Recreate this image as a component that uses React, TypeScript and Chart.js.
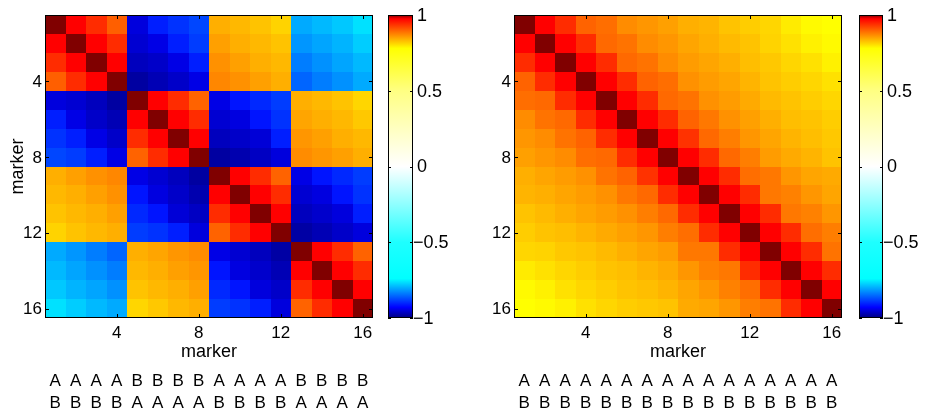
import React, { useEffect, useRef } from "react";
import { Chart, registerables } from "chart.js";

Chart.register(...registerables);

// ---------- data ----------
const markers = [1, 2, 3, 4, 5, 6, 7, 8, 9, 10, 11, 12, 13, 14, 15, 16];
const axisTicks = [4, 8, 12, 16];
const axisTickLabels = ["4", "8", "12", "16"];
const colorbarTicks = [-1, -0.5, 0, 0.5, 1];
const colorbarLabels = ["\u22121", "\u22120.5", "0", "0.5", "1"];
const axisTitle = "marker";

const leftHaploRow1 = ["A", "A", "A", "A", "B", "B", "B", "B", "A", "A", "A", "A", "B", "B", "B", "B"];
const leftHaploRow2 = ["B", "B", "B", "B", "A", "A", "A", "A", "B", "B", "B", "B", "A", "A", "A", "A"];
const rightHaploRow1 = ["A", "A", "A", "A", "A", "A", "A", "A", "A", "A", "A", "A", "A", "A", "A", "A"];
const rightHaploRow2 = ["B", "B", "B", "B", "B", "B", "B", "B", "B", "B", "B", "B", "B", "B", "B", "B"];

const leftMatrix = [
  [1.0, 0.975, 0.941, 0.902, -0.949, -0.908, -0.893, -0.878, 0.841, 0.834, 0.826, 0.814, -0.803, -0.792, -0.781, -0.762],
  [0.975, 1.0, 0.975, 0.941, -0.955, -0.944, -0.908, -0.885, 0.853, 0.841, 0.834, 0.826, -0.818, -0.807, -0.796, -0.777],
  [0.941, 0.975, 1.0, 0.975, -0.966, -0.96, -0.944, -0.908, 0.864, 0.853, 0.841, 0.834, -0.837, -0.822, -0.807, -0.792],
  [0.902, 0.941, 0.975, 1.0, -0.982, -0.971, -0.96, -0.944, 0.872, 0.864, 0.853, 0.841, -0.855, -0.837, -0.822, -0.803],
  [-0.949, -0.955, -0.966, -0.982, 1.0, 0.975, 0.941, 0.899, -0.944, -0.915, -0.9, -0.885, 0.841, 0.834, 0.826, 0.811],
  [-0.908, -0.944, -0.96, -0.971, 0.975, 1.0, 0.975, 0.941, -0.955, -0.947, -0.915, -0.893, 0.849, 0.841, 0.834, 0.822],
  [-0.893, -0.908, -0.944, -0.96, 0.941, 0.975, 1.0, 0.975, -0.966, -0.96, -0.952, -0.908, 0.86, 0.853, 0.841, 0.834],
  [-0.878, -0.885, -0.908, -0.944, 0.899, 0.941, 0.975, 1.0, -0.982, -0.974, -0.963, -0.949, 0.868, 0.86, 0.853, 0.841],
  [0.841, 0.853, 0.864, 0.872, -0.944, -0.955, -0.966, -0.982, 1.0, 0.975, 0.941, 0.899, -0.944, -0.915, -0.9, -0.885],
  [0.834, 0.841, 0.853, 0.864, -0.915, -0.947, -0.96, -0.974, 0.975, 1.0, 0.975, 0.941, -0.955, -0.947, -0.915, -0.893],
  [0.826, 0.834, 0.841, 0.853, -0.9, -0.915, -0.952, -0.963, 0.941, 0.975, 1.0, 0.975, -0.966, -0.958, -0.949, -0.908],
  [0.814, 0.826, 0.834, 0.841, -0.885, -0.893, -0.908, -0.949, 0.899, 0.941, 0.975, 1.0, -0.98, -0.971, -0.96, -0.949],
  [-0.803, -0.818, -0.837, -0.855, 0.841, 0.849, 0.86, 0.868, -0.944, -0.955, -0.966, -0.98, 1.0, 0.975, 0.941, 0.899],
  [-0.792, -0.807, -0.822, -0.837, 0.834, 0.841, 0.853, 0.86, -0.915, -0.947, -0.958, -0.971, 0.975, 1.0, 0.975, 0.941],
  [-0.781, -0.796, -0.807, -0.822, 0.826, 0.834, 0.841, 0.853, -0.9, -0.915, -0.949, -0.96, 0.941, 0.975, 1.0, 0.975],
  [-0.762, -0.777, -0.792, -0.803, 0.811, 0.822, 0.834, 0.841, -0.885, -0.893, -0.908, -0.949, 0.899, 0.941, 0.975, 1.0],
];

const rightMatrix = [
  [1.0, 0.975, 0.941, 0.899, 0.891, 0.868, 0.86, 0.853, 0.841, 0.837, 0.826, 0.818, 0.811, 0.795, 0.784, 0.78],
  [0.975, 1.0, 0.975, 0.941, 0.895, 0.887, 0.868, 0.86, 0.849, 0.841, 0.833, 0.826, 0.814, 0.803, 0.791, 0.784],
  [0.941, 0.975, 1.0, 0.975, 0.941, 0.895, 0.887, 0.868, 0.856, 0.849, 0.841, 0.83, 0.822, 0.811, 0.803, 0.791],
  [0.899, 0.941, 0.975, 1.0, 0.975, 0.941, 0.899, 0.891, 0.864, 0.856, 0.849, 0.837, 0.826, 0.818, 0.811, 0.803],
  [0.891, 0.895, 0.941, 0.975, 1.0, 0.975, 0.941, 0.895, 0.887, 0.864, 0.856, 0.845, 0.833, 0.826, 0.818, 0.811],
  [0.868, 0.887, 0.895, 0.941, 0.975, 1.0, 0.975, 0.941, 0.899, 0.883, 0.864, 0.853, 0.841, 0.83, 0.826, 0.818],
  [0.86, 0.868, 0.887, 0.899, 0.941, 0.975, 1.0, 0.975, 0.937, 0.895, 0.879, 0.86, 0.849, 0.837, 0.83, 0.822],
  [0.853, 0.86, 0.868, 0.891, 0.895, 0.941, 0.975, 1.0, 0.975, 0.941, 0.895, 0.879, 0.856, 0.845, 0.837, 0.826],
  [0.841, 0.849, 0.856, 0.864, 0.887, 0.899, 0.937, 0.975, 1.0, 0.975, 0.941, 0.891, 0.883, 0.86, 0.849, 0.845],
  [0.837, 0.841, 0.849, 0.856, 0.864, 0.883, 0.895, 0.941, 0.975, 1.0, 0.975, 0.941, 0.883, 0.876, 0.86, 0.849],
  [0.826, 0.833, 0.841, 0.849, 0.856, 0.864, 0.879, 0.895, 0.941, 0.975, 1.0, 0.975, 0.941, 0.883, 0.876, 0.86],
  [0.818, 0.826, 0.83, 0.837, 0.845, 0.853, 0.86, 0.879, 0.891, 0.941, 0.975, 1.0, 0.975, 0.941, 0.891, 0.879],
  [0.811, 0.814, 0.822, 0.826, 0.833, 0.841, 0.849, 0.856, 0.883, 0.883, 0.941, 0.975, 1.0, 0.975, 0.941, 0.887],
  [0.795, 0.803, 0.811, 0.818, 0.826, 0.83, 0.837, 0.845, 0.86, 0.876, 0.883, 0.941, 0.975, 1.0, 0.975, 0.941],
  [0.784, 0.791, 0.803, 0.811, 0.818, 0.826, 0.83, 0.837, 0.849, 0.86, 0.876, 0.891, 0.941, 0.975, 1.0, 0.975],
  [0.78, 0.784, 0.791, 0.803, 0.811, 0.818, 0.822, 0.826, 0.845, 0.849, 0.86, 0.879, 0.887, 0.941, 0.975, 1.0],
];

// ---------- colormap (style) ----------
const cmapStops: [number, number[]][] = [
  [-1, [0, 0, 128]],
  [-0.93, [0, 0, 255]],
  [-0.74, [0, 255, 255]],
  [-0.5, [30, 255, 255]],
  [0, [255, 255, 255]],
  [0.5, [255, 255, 130]],
  [0.78, [255, 255, 0]],
  [0.975, [255, 0, 0]],
  [1, [128, 0, 0]],
];

function colorFor(v: number): string {
  if (v <= cmapStops[0][0]) return rgb(cmapStops[0][1]);
  for (let i = 1; i < cmapStops.length; i++) {
    const [v1, c1] = cmapStops[i];
    const [v0, c0] = cmapStops[i - 1];
    if (v <= v1) {
      const t = (v - v0) / (v1 - v0);
      return rgb([0, 1, 2].map((k) => c0[k] + (c1[k] - c0[k]) * t));
    }
  }
  return rgb(cmapStops[cmapStops.length - 1][1]);
}
function rgb(c: number[]) {
  return `rgb(${Math.round(c[0])},${Math.round(c[1])},${Math.round(c[2])})`;
}

const FONT = "'Liberation Sans', Arial, Helvetica, sans-serif";

const panelPlugin = {
  id: "panel",
  beforeDatasetsDraw(chart: any, _args: any, opts: any) {
    const ctx = chart.ctx;
    const xs = chart.scales.x;
    const ys = chart.scales.y;
    const data = chart.data.datasets[0].data as any[];
    ctx.save();
    for (const p of data) {
      const x0 = Math.round(xs.getPixelForValue(p.x - 0.5));
      const x1 = Math.round(xs.getPixelForValue(p.x + 0.5));
      const y0 = Math.round(ys.getPixelForValue(p.y - 0.5));
      const y1 = Math.round(ys.getPixelForValue(p.y + 0.5));
      ctx.fillStyle = colorFor(p.v);
      ctx.fillRect(Math.min(x0, x1), Math.min(y0, y1), Math.abs(x1 - x0), Math.abs(y1 - y0));
    }
    ctx.restore();
  },
  afterDraw(chart: any, _args: any, opts: any) {
    const ctx = chart.ctx;
    const xs = chart.scales.x;
    const ys = chart.scales.y;
    const cb = chart.scales.cb;
    const ca = chart.chartArea;
    ctx.save();
    ctx.strokeStyle = "#000";
    ctx.lineWidth = 1;
    // border
    ctx.strokeRect(ca.left + 0.5, ca.top + 0.5, ca.right - ca.left - 1, ca.bottom - ca.top - 1);
    // inward ticks
    ctx.beginPath();
    const tl = 4;
    for (const t of axisTicks) {
      const px = Math.round(xs.getPixelForValue(t)) + 0.5;
      ctx.moveTo(px, ca.top);
      ctx.lineTo(px, ca.top + tl);
      ctx.moveTo(px, ca.bottom);
      ctx.lineTo(px, ca.bottom - tl);
      const py = Math.round(ys.getPixelForValue(t)) + 0.5;
      ctx.moveTo(ca.left, py);
      ctx.lineTo(ca.left + tl, py);
      ctx.moveTo(ca.right, py);
      ctx.lineTo(ca.right - tl, py);
    }
    ctx.stroke();

    ctx.fillStyle = "#000";
    ctx.font = `17px ${FONT}`;
    // y tick labels
    ctx.textAlign = "right";
    ctx.textBaseline = "middle";
    axisTicks.forEach((t, i) => {
      ctx.fillText(axisTickLabels[i], ca.left - 3, ys.getPixelForValue(t) + 1);
    });
    // x tick labels
    ctx.textAlign = "center";
    axisTicks.forEach((t, i) => {
      ctx.fillText(axisTickLabels[i], xs.getPixelForValue(t), ca.bottom + 15);
    });
    // titles
    ctx.font = `18px ${FONT}`;
    ctx.fillText(axisTitle, (ca.left + ca.right) / 2, ca.bottom + 34);
    if (opts.yTitle) {
      ctx.save();
      ctx.translate(18, (ca.top + ca.bottom) / 2);
      ctx.rotate(-Math.PI / 2);
      ctx.fillText(axisTitle, 0, 0);
      ctx.restore();
    }
    // haplotype letters
    ctx.font = `17px ${FONT}`;
    opts.row1.forEach((s: string, i: number) => {
      ctx.fillText(s, xs.getPixelForValue(markers[i]), 381);
    });
    opts.row2.forEach((s: string, i: number) => {
      ctx.fillText(s, xs.getPixelForValue(markers[i]), 403);
    });

    // colorbar
    const cbLeft = ca.right + opts.cbGap;
    const cbRight = cbLeft + opts.cbWidth;
    const top = cb.getPixelForValue(1);
    const bottom = cb.getPixelForValue(-1);
    const g = ctx.createLinearGradient(0, top, 0, bottom);
    for (const [v, c] of cmapStops) g.addColorStop((1 - v) / 2, rgb(c));
    ctx.fillStyle = g;
    ctx.fillRect(cbLeft, top, cbRight - cbLeft, bottom - top);
    ctx.strokeRect(cbLeft + 0.5, top + 0.5, cbRight - cbLeft - 1, bottom - top - 1);
    ctx.beginPath();
    for (const t of colorbarTicks) {
      const py = Math.round(cb.getPixelForValue(t)) + 0.5;
      ctx.moveTo(cbLeft, py);
      ctx.lineTo(cbLeft + 3, py);
      ctx.moveTo(cbRight, py);
      ctx.lineTo(cbRight - 3, py);
    }
    ctx.stroke();
    ctx.fillStyle = "#000";
    ctx.font = `18px ${FONT}`;
    ctx.textAlign = "left";
    ctx.textBaseline = "middle";
    colorbarTicks.forEach((t, i) => {
      const lab = colorbarLabels[i];
      const x = lab.startsWith("\u2212") ? cbRight + 0 : cbRight + 4;
      ctx.fillText(lab, x, cb.getPixelForValue(t) + 1);
    });
    ctx.restore();
  },
};

function buildPoints(matrix: number[][]) {
  const pts: { x: number; y: number; v: number }[] = [];
  matrix.forEach((row, r) => {
    row.forEach((v, c) => {
      pts.push({ x: markers[c], y: markers[r], v });
    });
  });
  return pts;
}

function Panel(props: {
  matrix: number[][];
  row1: string[];
  row2: string[];
  yTitle: boolean;
  padding: { left: number; right: number; top: number; bottom: number };
  cbGap: number;
  cbWidth: number;
  left: number;
  width: number;
}) {
  const ref = useRef<HTMLCanvasElement | null>(null);
  useEffect(() => {
    if (!ref.current) return;
    const chart = new Chart(ref.current, {
      type: "scatter",
      data: {
        datasets: [
          {
            data: buildPoints(props.matrix) as any,
            pointRadius: 0,
            pointHoverRadius: 0,
          },
        ],
      },
      options: {
        animation: false,
        responsive: false,
        devicePixelRatio: 1,
        events: [],
        layout: { padding: props.padding },
        scales: {
          x: { type: "linear", min: 0.5, max: 16.5, display: false },
          y: { type: "linear", min: 0.5, max: 16.5, reverse: true, display: false },
          cb: { type: "linear", axis: "y", min: -1, max: 1, display: false },
        },
        plugins: {
          legend: { display: false },
          tooltip: { enabled: false },
          panel: {
            yTitle: props.yTitle,
            row1: props.row1,
            row2: props.row2,
            cbGap: props.cbGap,
            cbWidth: props.cbWidth,
          },
        } as any,
      },
      plugins: [panelPlugin],
    });
    return () => chart.destroy();
  }, []);
  return (
    <canvas
      ref={ref}
      width={props.width}
      height={414}
      style={{ position: "absolute", left: props.left, top: 0, width: props.width, height: 414 }}
    />
  );
}

export default function App() {
  return (
    <div
      style={{
        position: "fixed",
        left: 0,
        top: 0,
        width: 925,
        height: 414,
        background: "#fff",
        overflow: "hidden",
      }}
    >
      <Panel
        matrix={leftMatrix}
        row1={leftHaploRow1}
        row2={leftHaploRow2}
        yTitle={true}
        padding={{ left: 45, right: 462 - 373, top: 15, bottom: 414 - 318 }}
        cbGap={15}
        cbWidth={25}
        left={0}
        width={462}
      />
      <Panel
        matrix={rightMatrix}
        row1={rightHaploRow1}
        row2={rightHaploRow2}
        yTitle={false}
        padding={{ left: 514 - 462, right: 925 - 842, top: 15, bottom: 414 - 318 }}
        cbGap={17}
        cbWidth={24}
        left={462}
        width={463}
      />
    </div>
  );
}
